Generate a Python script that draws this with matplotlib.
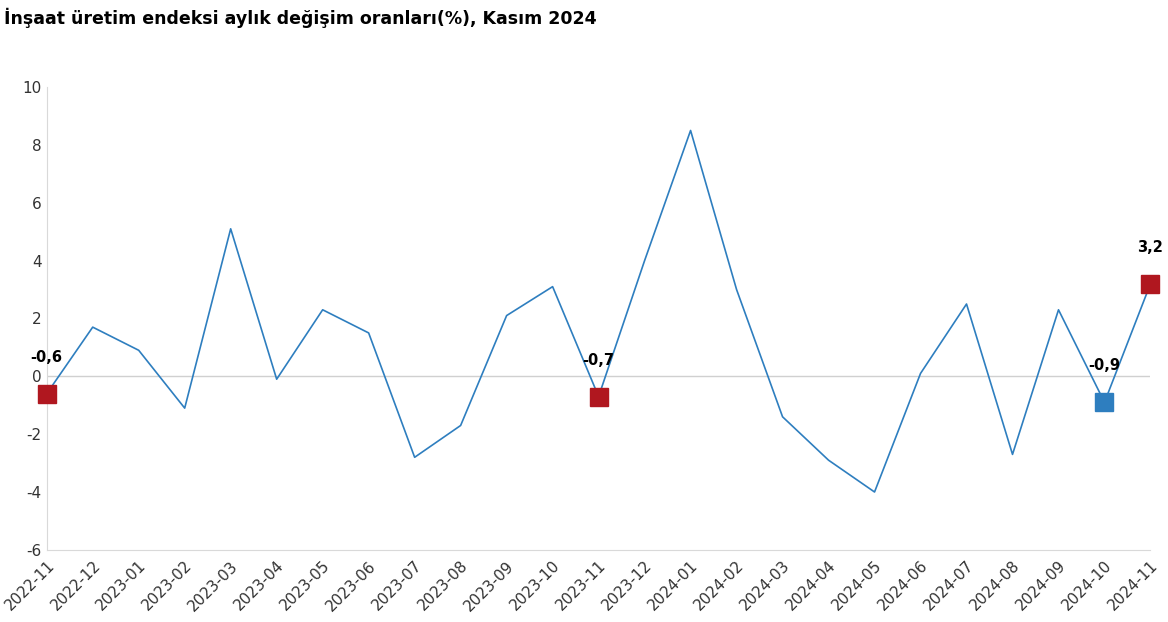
import matplotlib
matplotlib.use("Agg")
import matplotlib.pyplot as plt

plt.rcParams["axes.unicode_minus"] = False

months = ["2022-11", "2022-12", "2023-01", "2023-02", "2023-03", "2023-04", "2023-05",
          "2023-06", "2023-07", "2023-08", "2023-09", "2023-10", "2023-11", "2023-12",
          "2024-01", "2024-02", "2024-03", "2024-04", "2024-05", "2024-06", "2024-07",
          "2024-08", "2024-09", "2024-10", "2024-11"]
values = [-0.6, 1.7, 0.9, -1.1, 5.1, -0.1, 2.3, 1.5, -2.8, -1.7, 2.1, 3.1, -0.7, 4.0,
          8.5, 3.0, -1.4, -2.9, -4.0, 0.1, 2.5, -2.7, 2.3, -0.9, 3.2]
red_idx = [0, 12, 24]
blue_idx = [23]
line_col = "#2e7ebf"
red_col = "#b0171f"

fig = plt.figure(figsize=(11.68, 6.22), dpi=100)
ax = fig.add_axes([0.040, 0.116, 0.945, 0.744])
x = list(range(len(months)))
ax.plot(x, values, color=line_col, lw=1.2, zorder=2)
ax.axhline(0, color="#d0d0d0", lw=1, zorder=1)
for i in red_idx:
    ax.plot(i, values[i], marker="s", ms=13, color=red_col, zorder=3, clip_on=False)
for i in blue_idx:
    ax.plot(i, values[i], marker="s", ms=13, color=line_col, zorder=3, clip_on=False)
for i in red_idx + blue_idx:
    ax.text(i, values[i] + 1.0, f"{values[i]:.1f}".replace(".", ","), ha="center",
            va="bottom", fontsize=10.5, fontweight="bold")

ax.set_xlim(0, len(months) - 1)
ax.set_ylim(-6, 10)
ax.set_yticks(range(-6, 11, 2))
ax.set_xticks(x)
ax.set_xticklabels(months, rotation=45, ha="right", rotation_mode="anchor", fontsize=11)
ax.tick_params(axis="y", labelsize=11, length=0, colors="#333333")
ax.tick_params(axis="x", length=0, colors="#333333", pad=6)
for s in ["top", "right"]:
    ax.spines[s].set_visible(False)
for s in ["left", "bottom"]:
    ax.spines[s].set_color("#d9d9d9")

fig.text(0.003, 0.972, "İnşaat üretim endeksi aylık değişim oranları(%), Kasım 2024",
         fontsize=12.5, fontweight="bold", ha="left", va="center")
fig.savefig("out.png", dpi=100)
